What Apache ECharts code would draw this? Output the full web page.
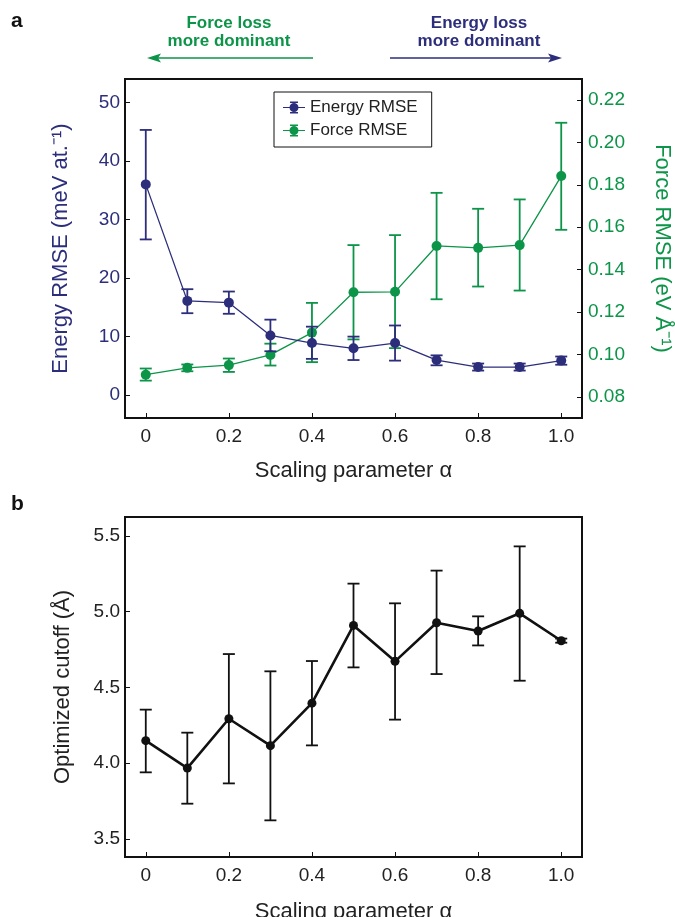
<!DOCTYPE html>
<html>
<head>
<meta charset="utf-8">
<script src="https://cdn.jsdelivr.net/npm/echarts@6/dist/echarts.min.js"></script>
<style>
html,body{margin:0;padding:0;background:#fff;}
#chart{width:675px;height:917px;}
</style>
</head>
<body>
<div id="chart"></div>
<script>
// ---- data ----
const alpha = [0, 0.1, 0.2, 0.3, 0.4, 0.5, 0.6, 0.7, 0.8, 0.9, 1.0];
const xTicks = [0, 0.2, 0.4, 0.6, 0.8, 1.0];

const energyRMSE = [36.0, 16.1, 15.8, 10.2, 8.9, 8.0, 8.9, 6.0, 4.8, 4.8, 5.9];
const energyLow  = [26.6, 14.0, 13.9, 7.5, 6.2, 6.0, 5.9, 5.1, 4.2, 4.2, 5.2];
const energyHigh = [45.3, 18.1, 17.7, 12.9, 11.7, 10.0, 11.9, 6.8, 5.4, 5.4, 6.6];
const energyTicks = [0, 10, 20, 30, 40, 50];

const forceRMSE = [0.0906, 0.0938, 0.0951, 0.0999, 0.1104, 0.1294, 0.1296, 0.1512, 0.1503, 0.1516, 0.1841];
const forceLow  = [0.0878, 0.0922, 0.0919, 0.0949, 0.0965, 0.1072, 0.1031, 0.1261, 0.1321, 0.1302, 0.1588];
const forceHigh = [0.0935, 0.0954, 0.0982, 0.1052, 0.1244, 0.1516, 0.1563, 0.1762, 0.1687, 0.1731, 0.2092];
const forceTicks = [0.08, 0.10, 0.12, 0.14, 0.16, 0.18, 0.20, 0.22];

const cutoff     = [4.148, 3.967, 4.293, 4.115, 4.396, 4.909, 4.672, 4.927, 4.872, 4.989, 4.808];
const cutoffLow  = [3.939, 3.732, 3.866, 3.622, 4.117, 4.632, 4.287, 4.588, 4.777, 4.544, 4.795];
const cutoffHigh = [4.353, 4.201, 4.720, 4.606, 4.674, 5.185, 5.055, 5.271, 4.969, 5.431, 4.822];
const cutoffTicks = [3.5, 4.0, 4.5, 5.0, 5.5];

// ---- styles ----
const NAVY = '#2c2e7b';
const GREEN = '#0c9448';
const BLACK = '#111111';
const FONT = "'Liberation Sans', Arial, sans-serif";
const TICK_FS = 19;
const TITLE_FS = 22;

function errData(lo, hi) { return alpha.map((a, i) => [a, lo[i], hi[i]]); }
function errRender(color, capHalf, lw) {
  return function (params, api) {
    const x = api.value(0);
    const p1 = api.coord([x, api.value(1)]);
    const p2 = api.coord([x, api.value(2)]);
    const st = { stroke: color, lineWidth: lw };
    return {
      type: 'group',
      children: [
        { type: 'line', shape: { x1: p1[0], y1: p1[1], x2: p2[0], y2: p2[1] }, style: st },
        { type: 'line', shape: { x1: p1[0] - capHalf, y1: p1[1], x2: p1[0] + capHalf, y2: p1[1] }, style: st },
        { type: 'line', shape: { x1: p2[0] - capHalf, y1: p2[1], x2: p2[0] + capHalf, y2: p2[1] }, style: st }
      ]
    };
  };
}
function pairs(ys) { return alpha.map((a, i) => [a, ys[i]]); }

const legendIcon = 'path://M0 6.4H22V7.6H0Z M7 1H15V2.4H7Z M7 11.6H15V13H7Z M10.3 1H11.7V13H10.3Z M6.5 7A4.5 4.5 0 1 1 15.5 7A4.5 4.5 0 1 1 6.5 7Z';

const xAxisCommon = {
  type: 'value', min: -0.05, max: 1.05,
  axisLine: { show: true, onZero: false, lineStyle: { color: BLACK, width: 2 } },
  axisTick: { show: true, inside: true, length: 5, customValues: xTicks, lineStyle: { color: BLACK, width: 1 } },
  axisLabel: { customValues: xTicks, margin: 9, color: '#222', fontSize: TICK_FS, fontFamily: FONT,
    formatter: v => (Math.abs(v) < 1e-9 ? '0' : v.toFixed(1)) },
  splitLine: { show: false },
  name: 'Scaling parameter α', nameLocation: 'middle', nameGap: 42,
  nameTextStyle: { color: '#222', fontSize: TITLE_FS, fontFamily: FONT }
};

const option = {
  animation: false,
  backgroundColor: '#fff',
  textStyle: { fontFamily: FONT },
  grid: [
    { left: 125, right: 93, top: 79, height: 339, show: true, borderColor: BLACK, borderWidth: 2,
      backgroundColor: 'transparent', outerBoundsMode: 'none', containLabel: false },
    { left: 125, right: 93, top: 517, height: 340, show: true, borderColor: BLACK, borderWidth: 2,
      backgroundColor: 'transparent', outerBoundsMode: 'none', containLabel: false }
  ],
  legend: {
    orient: 'vertical', left: 274, top: 92,
    padding: [7, 14, 8, 9], itemGap: 6, itemWidth: 22, itemHeight: 12,
    borderColor: BLACK, borderWidth: 1, backgroundColor: '#fff',
    textStyle: { color: '#222', fontSize: 17, fontFamily: FONT },
    data: [
      { name: 'Energy RMSE', icon: legendIcon, itemStyle: { color: NAVY } },
      { name: 'Force RMSE', icon: legendIcon, itemStyle: { color: GREEN } }
    ]
  },
  xAxis: [
    Object.assign({}, xAxisCommon, { gridIndex: 0 }),
    Object.assign({}, xAxisCommon, { gridIndex: 1, nameGap: 44 })
  ],
  yAxis: [
    {
      gridIndex: 0, type: 'value', min: -3.9, max: 54, position: 'left',
      axisLine: { show: true, onZero: false, lineStyle: { color: BLACK, width: 2 } },
      axisTick: { show: true, inside: true, length: 5, customValues: energyTicks, lineStyle: { color: BLACK } },
      axisLabel: { customValues: energyTicks, margin: 5, color: NAVY, fontSize: TICK_FS, fontFamily: FONT },
      splitLine: { show: false },
      name: 'Energy RMSE (meV at.⁻¹)', nameLocation: 'middle', nameGap: 53, nameRotate: 90,
      nameTextStyle: { color: NAVY, fontSize: TITLE_FS, fontFamily: FONT }
    },
    {
      gridIndex: 0, type: 'value', min: 0.0702, max: 0.2298, position: 'right',
      axisLine: { show: true, onZero: false, lineStyle: { color: BLACK, width: 2 } },
      axisTick: { show: true, inside: true, length: 5, customValues: forceTicks, lineStyle: { color: BLACK } },
      axisLabel: { customValues: forceTicks, margin: 6, color: GREEN, fontSize: TICK_FS, fontFamily: FONT,
        formatter: v => v.toFixed(2) },
      splitLine: { show: false },
      name: 'Force RMSE (eV Å⁻¹)', nameLocation: 'middle', nameGap: 69, nameRotate: -90,
      nameTextStyle: { color: GREEN, fontSize: TITLE_FS, fontFamily: FONT }
    },
    {
      gridIndex: 1, type: 'value', min: 3.38, max: 5.625, position: 'left',
      axisLine: { show: true, onZero: false, lineStyle: { color: BLACK, width: 2 } },
      axisTick: { show: true, inside: true, length: 5, customValues: cutoffTicks, lineStyle: { color: BLACK } },
      axisLabel: { customValues: cutoffTicks, margin: 5, color: '#222', fontSize: TICK_FS, fontFamily: FONT,
        formatter: v => v.toFixed(1) },
      splitLine: { show: false },
      name: 'Optimized cutoff (Å)', nameLocation: 'middle', nameGap: 51, nameRotate: 90,
      nameTextStyle: { color: '#222', fontSize: TITLE_FS, fontFamily: FONT }
    }
  ],
  series: [
    {
      name: 'Force RMSE err', type: 'custom', xAxisIndex: 0, yAxisIndex: 1,
      data: errData(forceLow, forceHigh), renderItem: errRender(GREEN, 6, 1.8), z: 2, silent: true
    },
    {
      name: 'Force RMSE', type: 'line', xAxisIndex: 0, yAxisIndex: 1, data: pairs(forceRMSE),
      symbol: 'circle', symbolSize: 10, color: GREEN,
      lineStyle: { color: GREEN, width: 1.3 }, itemStyle: { color: GREEN }, z: 3
    },
    {
      name: 'Energy RMSE err', type: 'custom', xAxisIndex: 0, yAxisIndex: 0,
      data: errData(energyLow, energyHigh), renderItem: errRender(NAVY, 6, 1.8), z: 4, silent: true
    },
    {
      name: 'Energy RMSE', type: 'line', xAxisIndex: 0, yAxisIndex: 0, data: pairs(energyRMSE),
      symbol: 'circle', symbolSize: 10, color: NAVY,
      lineStyle: { color: NAVY, width: 1.3 }, itemStyle: { color: NAVY }, z: 5
    },
    {
      name: 'Cutoff err', type: 'custom', xAxisIndex: 1, yAxisIndex: 2,
      data: errData(cutoffLow, cutoffHigh), renderItem: errRender(BLACK, 6, 1.8), z: 2, silent: true
    },
    {
      name: 'Cutoff', type: 'line', xAxisIndex: 1, yAxisIndex: 2, data: pairs(cutoff),
      symbol: 'circle', symbolSize: 9, color: BLACK,
      lineStyle: { color: BLACK, width: 2.6 }, itemStyle: { color: BLACK }, z: 3
    }
  ],
  graphic: [
    { type: 'text', left: 11, top: 11, style: { text: 'a', fontSize: 21, fontWeight: 'bold', fill: '#111', fontFamily: FONT } },
    { type: 'text', left: 11, top: 494, style: { text: 'b', fontSize: 21, fontWeight: 'bold', fill: '#111', fontFamily: FONT } },
    { type: 'text', x: 229, y: 32, style: { text: 'Force loss\nmore dominant', fontSize: 17, lineHeight: 18, fontWeight: 'bold',
      fill: GREEN, fontFamily: FONT, align: 'center', verticalAlign: 'middle' } },
    { type: 'text', x: 479, y: 32, style: { text: 'Energy loss\nmore dominant', fontSize: 17, lineHeight: 18, fontWeight: 'bold',
      fill: NAVY, fontFamily: FONT, align: 'center', verticalAlign: 'middle' } },
    { type: 'line', shape: { x1: 158, y1: 58, x2: 313, y2: 58 }, style: { stroke: GREEN, lineWidth: 1.5 } },
    { type: 'polygon', shape: { points: [[147, 58], [161, 53.5], [158, 58], [161, 62.5]] }, style: { fill: GREEN } },
    { type: 'line', shape: { x1: 390, y1: 58, x2: 551, y2: 58 }, style: { stroke: NAVY, lineWidth: 1.5 } },
    { type: 'polygon', shape: { points: [[562, 58], [548, 53.5], [551, 58], [548, 62.5]] }, style: { fill: NAVY } }
  ]
};

const chart = echarts.init(document.getElementById('chart'), null, { renderer: 'canvas' });
chart.setOption(option);
</script>
</body>
</html>
